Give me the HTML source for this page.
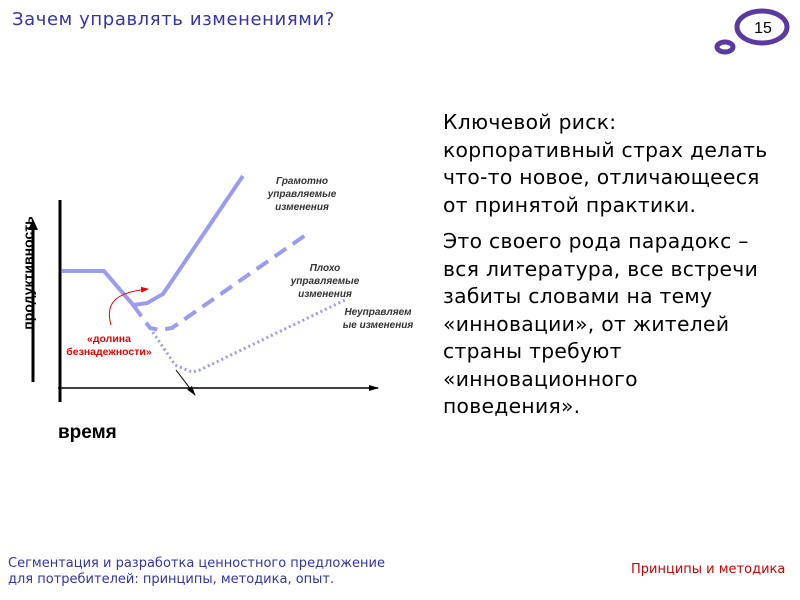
<!DOCTYPE html>
<html><head><meta charset="utf-8"><style>
body{margin:0;width:800px;height:600px;background:#fff;position:relative;overflow:hidden;font-family:"DejaVu Sans","Liberation Sans",sans-serif}
.t{position:absolute;white-space:nowrap}
</style></head><body>
<div class="t" style="left:12px;top:9px;font-size:18px;letter-spacing:0.6px;color:#3333aa">Зачем управлять изменениями?</div>
<svg style="position:absolute;left:0;top:0" width="800" height="600">
<ellipse cx="762" cy="27" rx="25" ry="16" fill="none" stroke="#5a3aa0" stroke-width="5"/>
<ellipse cx="725" cy="47" rx="8" ry="5" fill="none" stroke="#5a3aa0" stroke-width="5"/>
<text x="763" y="33" font-size="16" text-anchor="middle" font-family="Liberation Sans,sans-serif" fill="#000">15</text>
</svg>
<div class="t" style="left:443px;top:109px;font-size:20.3px;letter-spacing:0.3px;line-height:27.5px;color:#000">Ключевой риск:<br>корпоративный страх делать<br>что-то новое, отличающееся<br>от принятой практики.<div style="height:9px"></div>Это своего рода парадокс –<br>вся литература, все встречи<br>забиты словами на тему<br>«инновации», от жителей<br>страны требуют<br>«инновационного<br>поведения».</div>
<svg id="chart" style="position:absolute;left:0;top:0" width="800" height="600">
<defs><marker id="ah" markerUnits="userSpaceOnUse" markerWidth="10" markerHeight="8" refX="9" refY="4" orient="auto"><path d="M0,1 L10,4 L0,7z" fill="#000"/></marker>
<marker id="ahr" markerUnits="userSpaceOnUse" markerWidth="8" markerHeight="8" refX="7" refY="4" orient="auto"><path d="M0,1 L8,4 L0,7z" fill="#e00"/></marker></defs>
<line x1="60" y1="200" x2="60" y2="402" stroke="#000" stroke-width="3"/>
<line x1="58" y1="388" x2="378" y2="388" stroke="#000" stroke-width="1.5" marker-end="url(#ah)"/>
<line x1="33" y1="382" x2="33" y2="228" stroke="#000" stroke-width="3"/>
<polygon points="28,230 38,230 33,219" fill="#000"/>
<text transform="translate(33,273) rotate(-90)" text-anchor="middle" font-size="14" font-weight="bold" font-family="Liberation Sans,sans-serif">продуктивность</text>
<text x="58" y="438" font-size="19" font-weight="bold" font-family="Liberation Sans,sans-serif">время</text>
<g id="series"></g>
<line x1="176" y1="370" x2="195" y2="395" stroke="#000" stroke-width="1" marker-end="url(#ah)"/>
<path d="M111,325 C104,300 120,292 148,289" fill="none" stroke="#e00" stroke-width="1" marker-end="url(#ahr)"/>
<g font-family="Liberation Sans,sans-serif" font-size="10" font-weight="bold" font-style="italic" fill="#333" text-anchor="middle">
<text x="302" y="184">Грамотно<tspan x="302" dy="13">управляемые</tspan><tspan x="302" dy="13">изменения</tspan></text>
<text x="325" y="271">Плохо<tspan x="325" dy="13">управляемые</tspan><tspan x="325" dy="13">изменения</tspan></text>
<text x="378" y="315">Неуправляем<tspan x="378" dy="13">ые изменения</tspan></text>
</g>
<text font-family="Liberation Sans,sans-serif" font-size="10.5" font-weight="bold" fill="#e00" text-anchor="middle" x="109" y="342">«долина<tspan x="109" dy="13">безнадежности»</tspan></text>
</svg>
<div class="t" style="left:8px;top:556px;font-size:13px;line-height:16px;color:#3333aa">Сегментация и разработка ценностного предложение<br>для потребителей: принципы, методика, опыт.</div>
<div class="t" style="left:631px;top:562px;font-size:13px;color:#cc0000">Принципы и методика</div>
<script>
const wellT=[0.6,13.8,23,27.4,32.4,57.5];
const wellP=[61.6,61.6,43.7,44.7,49.5,111.6];
const poorT=[23,28.3,31.4,35.2,78.6];
const poorP=[43.7,31.6,30.5,31.6,82.1];
const unT=[28.3,36.2,41.5,44,89.6];
const unP=[31.6,12.1,8.4,9.5,46.3];
const xs=t=>60+t*3.18, ys=p=>388-p*1.9;
const g=document.getElementById('series');
function draw(T,P,name,dash,w){
 const el=document.createElementNS('http://www.w3.org/2000/svg','polyline');
 el.setAttribute('points',T.map((t,i)=>xs(t)+','+ys(P[i])).join(' '));
 el.setAttribute('fill','none');el.setAttribute('stroke','#9b9bf0');
 el.setAttribute('stroke-width',w);el.setAttribute('stroke-linejoin','round');
 if(dash)el.setAttribute('stroke-dasharray',dash);
 
 
 g.appendChild(el);
}
draw(wellT,wellP,'series-well-managed',null,4);
draw(poorT,poorP,'series-poorly-managed','14,8',4);
draw(unT,unP,'series-unmanaged','2,3',3);
</script>
</body></html>
